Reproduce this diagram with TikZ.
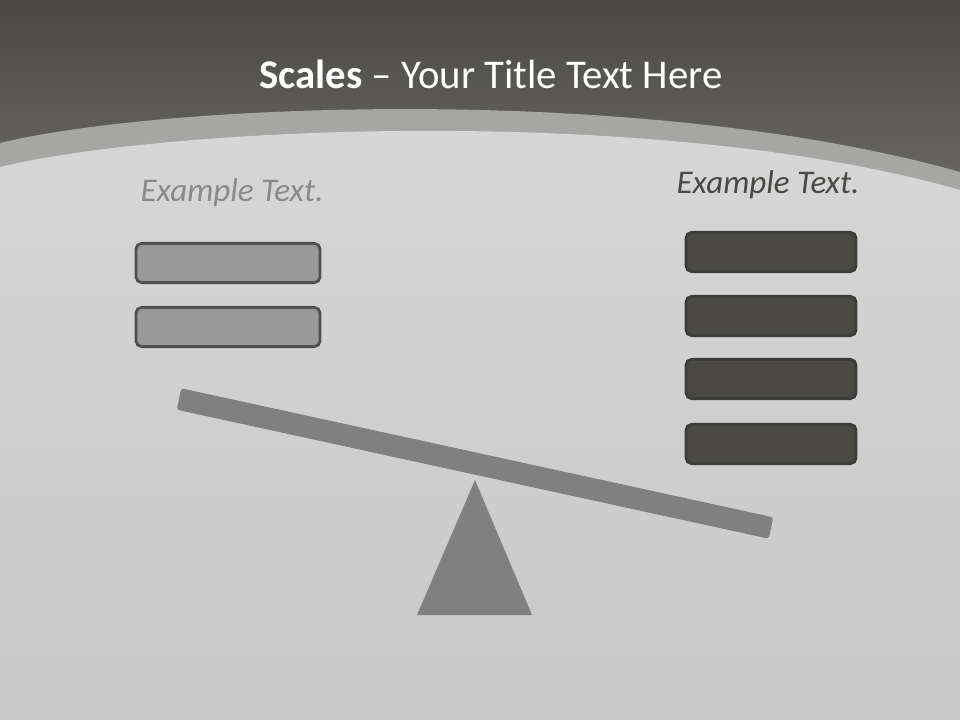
\documentclass[tikz,border=0pt]{standalone}
\usepackage{fontspec}
\setmainfont{Carlito}
\usepackage{xcolor}
\usepackage{tikz}
\usetikzlibrary{positioning,calc}

\definecolor{hdtop}{HTML}{4A4945}
\definecolor{hdbot}{HTML}{6A6965}
\definecolor{bandc}{HTML}{A6A6A4}
\definecolor{bodytop}{HTML}{D7D7D7}
\definecolor{bodybot}{HTML}{C8C8C8}
\definecolor{lightbox}{HTML}{999999}
\definecolor{darkbox}{HTML}{4A4945}
\definecolor{edgec}{HTML}{3C3C3A}
\definecolor{beamc}{HTML}{808080}
\definecolor{lefttxt}{HTML}{8A8A8A}

\begin{document}
\begin{tikzpicture}[x=0.025cm,y=-0.025cm,
  every node/.style={font=\fontsize{20}{24}\selectfont},
  lbox/.style={draw=edgec!90,fill=lightbox,line width=2pt,rounded corners=4pt,minimum width=4.6cm,minimum height=0.98cm},
  rbox/.style={draw=edgec,fill=darkbox,line width=2pt,rounded corners=4pt,minimum width=4.25cm,minimum height=0.98cm},
  lbl/.style={font=\fontsize{23.5}{28}\selectfont\itshape},
  part/.style={fill=beamc}]
 \useasboundingbox (0,0) rectangle (960,720);
 % background
 \shade[top color=hdtop,bottom color=hdbot] (0,0) rectangle (960,200);
 \fill[bandc] (0,143) .. controls (160,104) and (640,82) .. (960,172) -- (960,720) -- (0,720) -- cycle;
 \shade[top color=bodytop,bottom color=bodybot] (0,167) .. controls (170,126) and (660,104) .. (960,190) -- (960,720) -- (0,720) -- cycle;
 % title and labels
 \node[text=white,font=\fontsize{29}{34}\selectfont] (title) at (491,74) {\textbf{Scales} -- Your Title Text Here};
 \node[lbl,text=lefttxt] (ltxt) at (232,193) {Example Text.};
 \node[lbl,text=darkbox] (rtxt) at (768,185) {Example Text.};
 % weights
 \foreach \y [count=\i] in {263,327} \node[lbox] (l\i) at (228,\y) {};
 \foreach \y [count=\i] in {252,316,379,444} \node[rbox] (r\i) at (771,\y) {};
 % seesaw
 \fill[part,rounded corners=2pt] (181.3,388.3) -- (773.3,517.3) -- (768.7,538.7) -- (176.7,409.7) -- cycle;
 \fill[part] (475,480) -- (532,615) -- (417,615) -- cycle;
\end{tikzpicture}
\end{document}
